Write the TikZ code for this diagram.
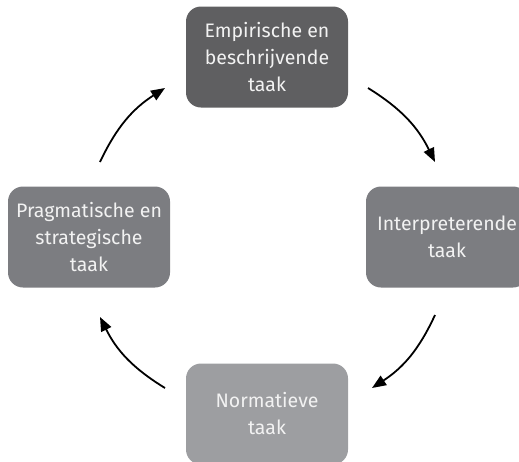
\documentclass[tikz,border=0pt]{standalone}
\usepackage{fontspec}
\setmainfont{Fira Sans}
\usetikzlibrary{arrows.meta}
\definecolor{boxA}{RGB}{95,95,97}
\definecolor{boxB}{RGB}{124,125,129}
\definecolor{boxC}{RGB}{157,158,161}
\definecolor{txt}{RGB}{242,242,242}
\begin{document}
\begin{tikzpicture}[x=1pt,y=-1pt,
  taskbox/.style={rounded corners=15pt, minimum width=162pt, minimum height=101pt,
    inner sep=0pt, text=txt, align=center, font=\fontsize{19.5}{27}\selectfont},
  cyc/.style={line width=1.8pt, -{Triangle[length=14pt,width=11pt]}}]
\useasboundingbox (0,0) rectangle (519,461);
\clip (0,0) rectangle (519,461);
\node[taskbox, fill=boxA] (emp) at (267,57) {Empirische en\\beschrijvende\\taak};
\node[taskbox, fill=boxB] (int) at (447,237) {Interpreterende\\taak};
\node[taskbox, fill=boxC] (norm) at (267,414) {Normatieve\\taak};
\node[taskbox, fill=boxB] (prag) at (89,237) {Pragmatische en\\strategische\\taak};
\coordinate (a1) at (368,88);  \coordinate (a2) at (435,162);
\coordinate (b1) at (435,315); \coordinate (b2) at (372,388);
\coordinate (c1) at (165,388); \coordinate (c2) at (100,317);
\coordinate (d1) at (100,162); \coordinate (d2) at (165,88);
\draw[cyc] (a1) to[bend left=16] (a2);
\draw[cyc] (b1) to[bend left=16] (b2);
\draw[cyc] (c1) to[bend left=16] (c2);
\draw[cyc] (d1) to[bend left=16] (d2);
\end{tikzpicture}
\end{document}
